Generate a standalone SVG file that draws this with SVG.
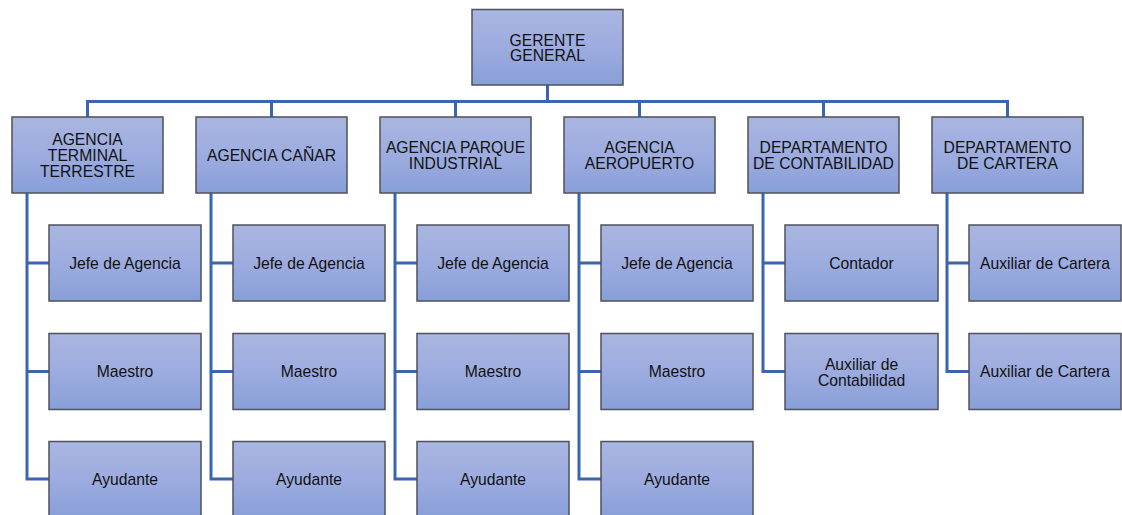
<svg xmlns="http://www.w3.org/2000/svg" width="1122" height="515" viewBox="0 0 1122 515">
<defs>
<linearGradient id="g" x1="0" y1="0" x2="0" y2="1">
<stop offset="0" stop-color="#aab6e0"/>
<stop offset="0.5" stop-color="#9dace0"/>
<stop offset="1" stop-color="#889fd8"/>
</linearGradient>
<style>
.box{fill:url(#g);stroke:#4d525e;stroke-width:1.5}
.t{font-family:"Liberation Sans",Arial,sans-serif;font-size:15.7px;fill:#111;text-anchor:middle}
.c{fill:none;stroke:#3d64ae;stroke-width:3}
</style>
</defs>
<rect width="1122" height="515" fill="#fff"/>
<g id="connectors" class="c">
<path d="M547.5 85V101.5M87.5 117V101.5H1007.5V117M271.5 101.5V117M455.5 101.5V117M639.5 101.5V117M823.5 101.5V117"/>
<path d="M27 193V479H49M27 263H49M27 371.5H49"/>
<path d="M211 193V479H233M211 263H233M211 371.5H233"/>
<path d="M395 193V479H417M395 263H417M395 371.5H417"/>
<path d="M579 193V479H601M579 263H601M579 371.5H601"/>
<path d="M763 193V371.5H785M763 263H785"/>
<path d="M947 193V371.5H969M947 263H969"/>
</g>
<g id="gerente"><rect class="box" x="472" y="9.5" width="151" height="75.5"/><text class="t" x="547.5" y="45.7">GERENTE</text><text class="t" x="547.5" y="61.2">GENERAL</text></g>

<g id="ag-terminal"><rect class="box" x="12" y="117" width="151" height="76"/><text class="t" x="87.5" y="144.6">AGENCIA</text><text class="t" x="87.5" y="160.9">TERMINAL</text><text class="t" x="87.5" y="177.2">TERRESTRE</text></g>
<g id="ag-terminal-jefe"><rect class="box" x="49" y="225" width="152" height="76"/><text class="t" x="125" y="268.6">Jefe de Agencia</text></g>
<g id="ag-terminal-maestro"><rect class="box" x="49" y="333.5" width="152" height="76"/><text class="t" x="125" y="377.1">Maestro</text></g>
<g id="ag-terminal-ayudante"><rect class="box" x="49" y="441.5" width="152" height="76"/><text class="t" x="125" y="485.1">Ayudante</text></g>

<g id="ag-canar"><rect class="box" x="196" y="117" width="151" height="76"/><text class="t" x="271.5" y="160.6">AGENCIA CAÑAR</text></g>
<g id="ag-canar-jefe"><rect class="box" x="233" y="225" width="152" height="76"/><text class="t" x="309" y="268.6">Jefe de Agencia</text></g>
<g id="ag-canar-maestro"><rect class="box" x="233" y="333.5" width="152" height="76"/><text class="t" x="309" y="377.1">Maestro</text></g>
<g id="ag-canar-ayudante"><rect class="box" x="233" y="441.5" width="152" height="76"/><text class="t" x="309" y="485.1">Ayudante</text></g>

<g id="ag-parque"><rect class="box" x="380" y="117" width="151" height="76"/><text class="t" x="455.5" y="152.9">AGENCIA PARQUE</text><text class="t" x="455.5" y="168.9">INDUSTRIAL</text></g>
<g id="ag-parque-jefe"><rect class="box" x="417" y="225" width="152" height="76"/><text class="t" x="493" y="268.6">Jefe de Agencia</text></g>
<g id="ag-parque-maestro"><rect class="box" x="417" y="333.5" width="152" height="76"/><text class="t" x="493" y="377.1">Maestro</text></g>
<g id="ag-parque-ayudante"><rect class="box" x="417" y="441.5" width="152" height="76"/><text class="t" x="493" y="485.1">Ayudante</text></g>

<g id="ag-aeropuerto"><rect class="box" x="564" y="117" width="151" height="76"/><text class="t" x="639.5" y="152.9">AGENCIA</text><text class="t" x="639.5" y="168.9">AEROPUERTO</text></g>
<g id="ag-aeropuerto-jefe"><rect class="box" x="601" y="225" width="152" height="76"/><text class="t" x="677" y="268.6">Jefe de Agencia</text></g>
<g id="ag-aeropuerto-maestro"><rect class="box" x="601" y="333.5" width="152" height="76"/><text class="t" x="677" y="377.1">Maestro</text></g>
<g id="ag-aeropuerto-ayudante"><rect class="box" x="601" y="441.5" width="152" height="76"/><text class="t" x="677" y="485.1">Ayudante</text></g>

<g id="dep-contabilidad"><rect class="box" x="748" y="117" width="151" height="76"/><text class="t" x="823.5" y="152.9">DEPARTAMENTO</text><text class="t" x="823.5" y="168.9">DE CONTABILIDAD</text></g>
<g id="dep-contabilidad-contador"><rect class="box" x="785" y="225" width="153" height="76"/><text class="t" x="861.5" y="268.6">Contador</text></g>
<g id="dep-contabilidad-auxiliar"><rect class="box" x="785" y="333.5" width="153" height="76"/><text class="t" x="861.5" y="369.6">Auxiliar de</text><text class="t" x="861.5" y="386">Contabilidad</text></g>

<g id="dep-cartera"><rect class="box" x="932" y="117" width="151" height="76"/><text class="t" x="1007.5" y="152.9">DEPARTAMENTO</text><text class="t" x="1007.5" y="168.9">DE CARTERA</text></g>
<g id="dep-cartera-aux1"><rect class="box" x="969" y="225" width="152" height="76"/><text class="t" x="1045" y="268.6">Auxiliar de Cartera</text></g>
<g id="dep-cartera-aux2"><rect class="box" x="969" y="333.5" width="152" height="76"/><text class="t" x="1045" y="377.1">Auxiliar de Cartera</text></g>
</svg>
